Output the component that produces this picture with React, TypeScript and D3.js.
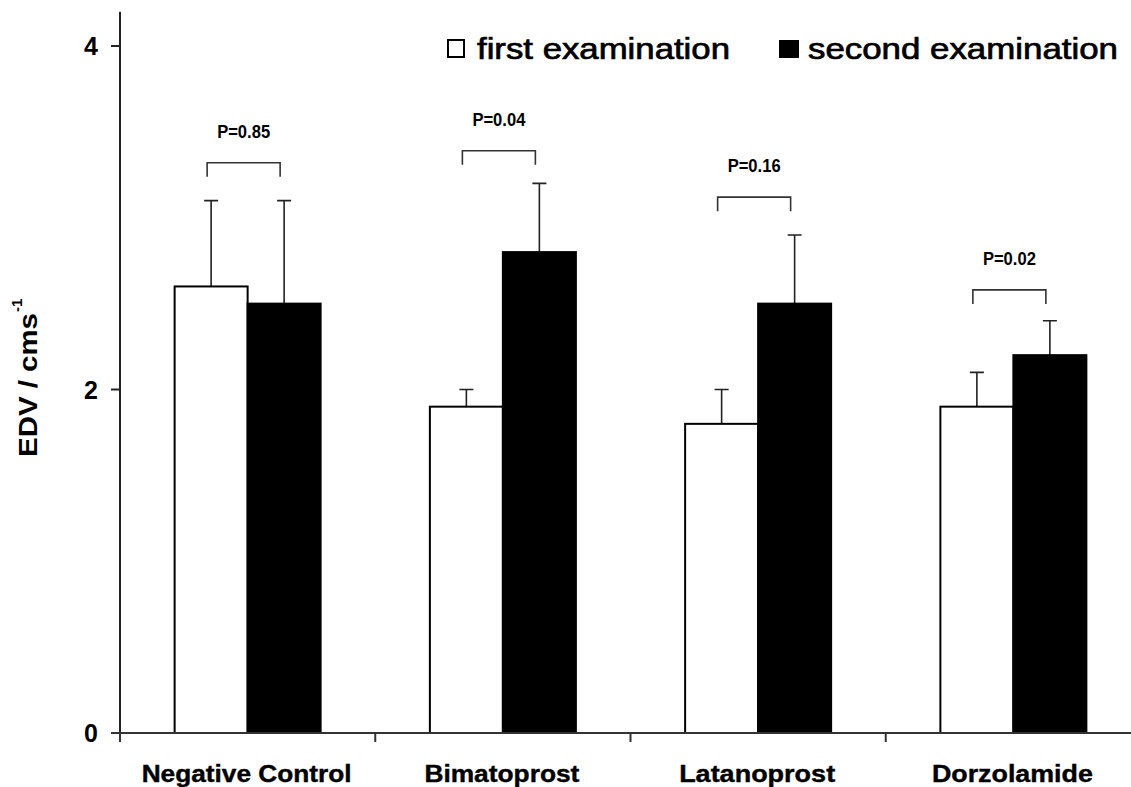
import React, { useEffect, useRef } from "react";
import * as d3 from "d3";

const categories = ["Negative Control", "Bimatoprost", "Latanoprost", "Dorzolamide"];
const series = ["first examination", "second examination"];
const firstMean = [2.6, 1.9, 1.8, 1.9];
const firstSD = [0.5, 0.1, 0.2, 0.2];
const secondMean = [2.5, 2.8, 2.5, 2.2];
const secondSD = [0.6, 0.4, 0.4, 0.2];
const pLabels = ["P=0.85", "P=0.04", "P=0.16", "P=0.02"];
const bracketLevel = [3.32, 3.39, 3.12, 2.58];
const yTicks = [0, 2, 4];

const WIDTH = 1131;
const HEIGHT = 787;
const FONT = "'Liberation Sans', Arial, sans-serif";

export default function App() {
  const ref = useRef<SVGSVGElement | null>(null);

  useEffect(() => {
    const svg = d3.select(ref.current);
    svg.selectAll("*").remove();

    const x0 = d3.scaleBand<string>().domain(categories).range([120, 1141]).padding(0);
    const barW = 73;
    const x1 = d3
      .scaleBand<string>()
      .domain(series)
      .range([x0.bandwidth() / 2 - barW, x0.bandwidth() / 2 + barW])
      .padding(0);
    const y = d3.scaleLinear().domain([0, 4]).range([733, 46]);

    const rows = categories.map((c, i) => ({
      cat: c,
      bars: [
        { s: series[0], mean: firstMean[i], sd: firstSD[i], fill: "#fff" },
        { s: series[1], mean: secondMean[i], sd: secondSD[i], fill: "#000" },
      ],
      p: pLabels[i],
      level: bracketLevel[i],
    }));

    // bars + error bars
    const groups = svg
      .selectAll(".grp")
      .data(rows)
      .enter()
      .append("g")
      .attr("class", "grp")
      .attr("transform", (d) => "translate(" + x0(d.cat) + ",0)");

    groups
      .selectAll(".err")
      .data((d) => d.bars)
      .enter()
      .append("path")
      .attr("class", "err")
      .attr("fill", "none")
      .attr("stroke", "#222")
      .attr("stroke-width", 1.6)
      .attr("d", (b) => {
        const cx = (x1(b.s) as number) + x1.bandwidth() / 2;
        const top = y(b.mean + b.sd);
        return `M${cx},${y(b.mean)}V${top}M${cx - 7},${top}H${cx + 7}`;
      });

    groups
      .selectAll(".bar")
      .data((d) => d.bars)
      .enter()
      .append("rect")
      .attr("class", "bar")
      .attr("x", (b) => x1(b.s) as number)
      .attr("width", x1.bandwidth())
      .attr("y", (b) => y(b.mean))
      .attr("height", (b) => y(0) - y(b.mean))
      .attr("fill", (b) => b.fill)
      .attr("stroke", "#000")
      .attr("stroke-width", 2);

    // significance brackets
    groups
      .append("path")
      .attr("fill", "none")
      .attr("stroke", "#333")
      .attr("stroke-width", 1.6)
      .attr("d", (d) => {
        const a = (x1(series[0]) as number) + x1.bandwidth() / 2 - 4;
        const b = (x1(series[1]) as number) + x1.bandwidth() / 2 - 4;
        const t = y(d.level);
        return `M${a},${t + 14}V${t}H${b}V${t + 14}`;
      });

    groups
      .append("text")
      .attr("x", x0.bandwidth() / 2 - 4)
      .attr("y", (d) => y(d.level) - 25)
      .attr("text-anchor", "middle")
      .attr("font-family", FONT)
      .attr("font-weight", "bold")
      .attr("font-size", 18)
      .attr("textLength", 53)
      .attr("lengthAdjust", "spacingAndGlyphs")
      .text((d) => d.p);

    // y axis
    const yAxis = svg.append("g");
    yAxis
      .append("line")
      .attr("x1", 120)
      .attr("x2", 120)
      .attr("y1", y(0))
      .attr("y2", y(4.2))
      .attr("stroke", "#222")
      .attr("stroke-width", 2);
    yAxis
      .selectAll(".ytick")
      .data(yTicks)
      .enter()
      .append("line")
      .attr("x1", 111)
      .attr("x2", 120)
      .attr("y1", (d) => y(d))
      .attr("y2", (d) => y(d))
      .attr("stroke", "#222")
      .attr("stroke-width", 2);
    yAxis
      .selectAll(".ylab")
      .data(yTicks)
      .enter()
      .append("text")
      .attr("x", 98)
      .attr("y", (d) => y(d))
      .attr("dy", "0.36em")
      .attr("text-anchor", "end")
      .attr("font-family", FONT)
      .attr("font-weight", "bold")
      .attr("font-size", 25)
      .text((d) => d);

    // x axis
    const xAxis = svg.append("g");
    xAxis
      .append("line")
      .attr("x1", 111)
      .attr("x2", 1141)
      .attr("y1", y(0))
      .attr("y2", y(0))
      .attr("stroke", "#333")
      .attr("stroke-width", 2);
    xAxis
      .selectAll(".xtick")
      .data(categories.concat(["end"]))
      .enter()
      .append("line")
      .attr("x1", (d, i) => 120 + i * x0.bandwidth())
      .attr("x2", (d, i) => 120 + i * x0.bandwidth())
      .attr("y1", y(0))
      .attr("y2", y(0) + 9)
      .attr("stroke", "#333")
      .attr("stroke-width", 2);
    const labW = [210, 155, 156, 161];
    xAxis
      .selectAll(".xlab")
      .data(categories)
      .enter()
      .append("text")
      .attr("x", (d) => (x0(d) as number) + x0.bandwidth() / 2 - 1)
      .attr("y", 782)
      .attr("text-anchor", "middle")
      .attr("font-family", FONT)
      .attr("font-weight", "bold")
      .attr("font-size", 24)
      .attr("stroke", "#000")
      .attr("stroke-width", 0.4)
      .attr("textLength", (d, i) => labW[i])
      .attr("lengthAdjust", "spacingAndGlyphs")
      .text((d) => d);

    // y label
    const yl = svg.append("g").attr("transform", "translate(37,457) rotate(-90)");
    yl.append("text")
      .attr("x", 0)
      .attr("y", 0)
      .attr("font-family", FONT)
      .attr("font-weight", "bold")
      .attr("font-size", 25)
      .attr("textLength", 144)
      .attr("lengthAdjust", "spacingAndGlyphs")
      .text("EDV / cms");
    yl.append("text")
      .attr("x", 145)
      .attr("y", -15)
      .attr("font-family", FONT)
      .attr("font-weight", "bold")
      .attr("font-size", 15)
      .text("-1");

    // legend
    const leg = svg.append("g");
    leg.append("rect")
      .attr("x", 448)
      .attr("y", 40)
      .attr("width", 16)
      .attr("height", 17)
      .attr("fill", "#fff")
      .attr("stroke", "#000")
      .attr("stroke-width", 2);
    leg.append("text")
      .attr("x", 477)
      .attr("y", 59)
      .attr("font-family", FONT)
      .attr("font-size", 29)
      .attr("stroke", "#000")
      .attr("stroke-width", 0.7)
      .attr("textLength", 253)
      .attr("lengthAdjust", "spacingAndGlyphs")
      .text(series[0]);
    leg.append("rect")
      .attr("x", 779)
      .attr("y", 40)
      .attr("width", 20)
      .attr("height", 18)
      .attr("fill", "#000");
    leg.append("text")
      .attr("x", 808)
      .attr("y", 59)
      .attr("font-family", FONT)
      .attr("font-size", 29)
      .attr("stroke", "#000")
      .attr("stroke-width", 0.7)
      .attr("textLength", 310)
      .attr("lengthAdjust", "spacingAndGlyphs")
      .text(series[1]);
  }, []);

  return (
    <svg
      ref={ref}
      width={WIDTH}
      height={HEIGHT}
      style={{ position: "absolute", left: 0, top: 0, background: "#fff" }}
    />
  );
}
